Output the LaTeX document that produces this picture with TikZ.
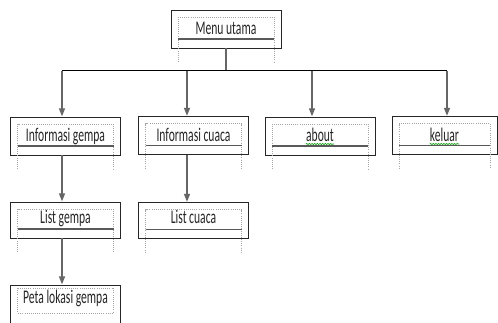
\documentclass[tikz,border=0pt]{standalone}
\usepackage{fontspec}
\setmainfont{Carlito}[FakeStretch=0.6]
\usetikzlibrary{arrows.meta,calc,decorations.pathmorphing}
\newcommand\boxdeco[1]{%
  \draw[innerdot] ($(#1.south west)+(7,14)$) -- ($(#1.north west)+(7,7)$) -- ($(#1.north east)+(-7,7)$) -- ($(#1.south east)+(-7,14)$);
  \draw[innerline] ($(#1.south west)+(7,-9)$) -- ($(#1.south east)+(-7,-9)$);
}
\begin{document}
\begin{tikzpicture}[x=0.75pt,y=-0.75pt,
  box/.style={draw=black!85, line width=0.75pt, rectangle, minimum width=82.5pt, minimum height=28.5pt, inner sep=0pt, outer sep=0pt},
  innerdot/.style={draw=black!35, line width=0.6pt, densely dotted},
  innerline/.style={draw=black!65, line width=0.85pt},
  lbl/.style={font=\fontsize{14.5pt}{16pt}\selectfont, text=black!85, inner sep=0pt, anchor=base},
  conn/.style={draw=black!60, line width=1.1pt},
  bus/.style={draw=black, line width=0.8pt},
  arr/.style={conn, -{Triangle[length=6pt,width=4.5pt]}, shorten >=0.5pt},
  squig/.style={draw=green!60!black, line width=0.5pt, decorate, decoration={snake, amplitude=0.35pt, segment length=2pt}}]
\fill[white] (0,0) rectangle (498,322);
\useasboundingbox (0,0) rectangle (498,322);
\clip (0,0) rectangle (498,322);
% boxes
\node[box] (menu) at (226,29) {};
\node[box] (ig) at (65.5,136) {};
\node[box] (ic) at (193.5,135.5) {};
\node[box] (ab) at (320,136) {};
\node[box, minimum width=78.75pt] (kl) at (444.5,135.5) {};
\node[box, minimum height=27pt] (lg) at (65.5,220) {};
\node[box, minimum height=27pt] (lc) at (193.5,220.5) {};
\node[box] (pt) at (65.5,304) {};
% inner decorations
\boxdeco{menu}
\boxdeco{ig}
\boxdeco{ic}
\boxdeco{ab}
\boxdeco{kl}
\boxdeco{lg}
\boxdeco{lc}
\draw[innerdot] ($(pt.north west)+(7,3)$) rectangle ($(pt.north east)+(-7,28)$);
% labels
\node[lbl] (t-menu) at ($(menu.south)+(0,-13.5)$) {Menu utama};
\node[lbl] (t-ig) at ($(ig.south)+(0,-13.5)$) {Informasi gempa};
\node[lbl] (t-ic) at ($(ic.south)+(0,-13)$) {Informasi cuaca};
\node[lbl] (t-ab) at ($(ab.south)+(0,-13.5)$) {about};
\node[lbl] (t-kl) at ($(kl.south)+(0,-13)$) {keluar};
\node[lbl] (t-lg) at ($(lg.south)+(0,-15)$) {List gempa};
\node[lbl] (t-lc) at ($(lc.south)+(0,-15.5)$) {List cuaca};
\node[lbl] (t-pt) at ($(pt.north)+(0,18.5)$) {Peta lokasi gempa};
\draw[squig] ($(t-ab.base west)+(0,2.5)$) -- ($(t-ab.base east)+(0,2.5)$);
\draw[squig] ($(t-kl.base west)+(0,2.5)$) -- ($(t-kl.base east)+(0,2.5)$);
% connectors
\coordinate (b1) at (62,70.5);
\coordinate (b2) at (187,70.5);
\coordinate (b3) at (312,70.5);
\coordinate (b4) at (447,70.5);
\draw[conn] (menu.south) -- (menu.south |- b1);
\draw[bus] (b1) -- (b4);
\draw[arr] (b1) -- (b1 |- ig.north);
\draw[arr] (b2) -- (b2 |- ic.north);
\draw[arr] (b3) -- (b3 |- ab.north);
\draw[arr] (b4) -- (b4 |- kl.north);
\draw[arr] (ig.south -| b1) -- (lg.north -| b1);
\draw[arr] (ic.south -| b2) -- (lc.north -| b2);
\draw[arr] (lg.south -| b1) -- (pt.north -| b1);
\end{tikzpicture}
\end{document}
